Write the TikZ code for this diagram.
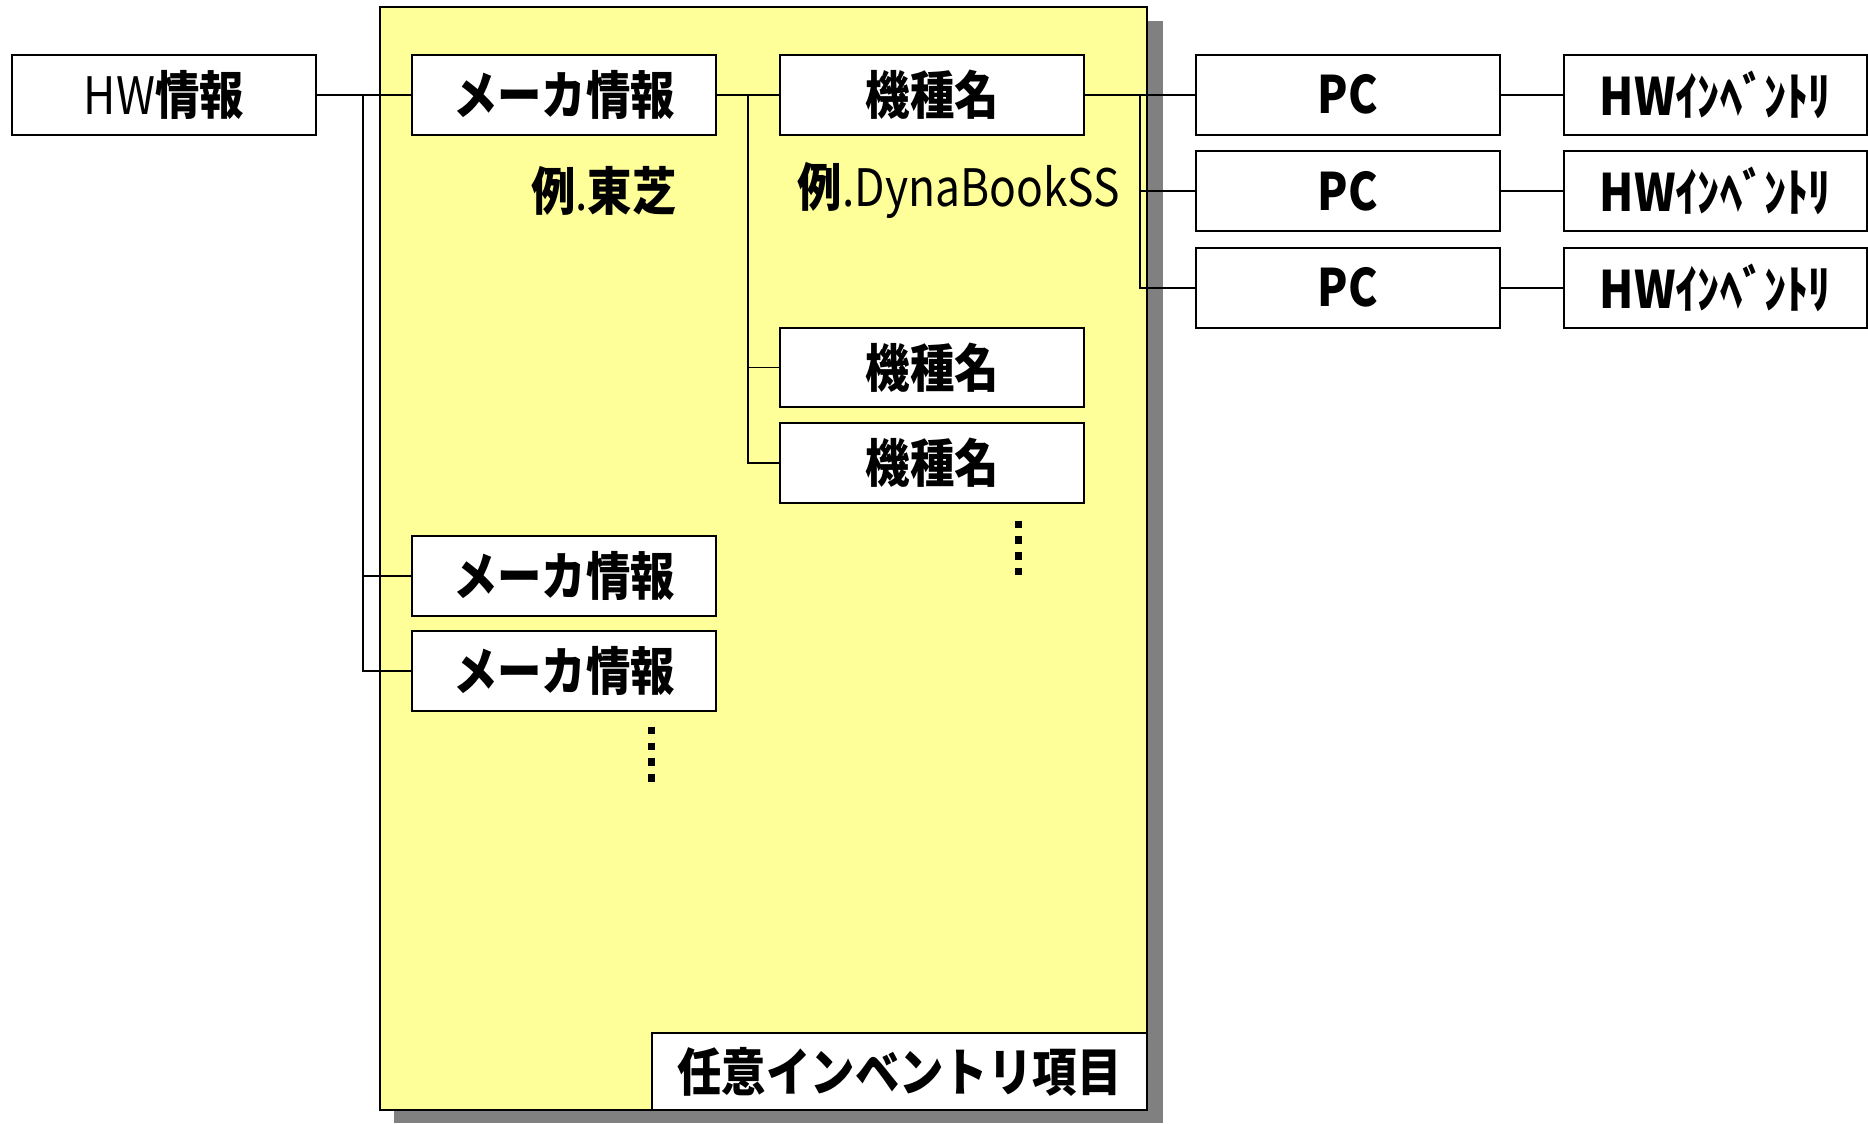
\documentclass[tikz,border=0pt]{standalone}
\usepackage{fontspec}
\setmainfont{Noto Sans CJK JP}[FakeStretch=0.86]
\definecolor{panelyellow}{HTML}{FFFF99}
\definecolor{shadowgray}{HTML}{808080}
\tikzset{
	box/.style={draw, line width=1pt, fill=white, minimum width=153pt, minimum height=40.2pt, inner sep=0pt, font=\fontsize{26}{28}\selectfont\bfseries},
	note/.style={inner sep=0pt, font=\fontsize{26}{28}\selectfont\bfseries},
	link/.style={line width=0.9pt},
	vdots/.style={line width=3.6pt, dash pattern=on 3.6pt off 4.4pt}
}

\begin{document}
\begin{tikzpicture}[x=0.6pt, y=-0.6pt]
			%%%%% START %%%%%
			\useasboundingbox (0, 0) rectangle (1568, 943);
			
			\fill[shadowgray] (331, 18) rectangle (976, 943);
			\draw[line width=1pt, fill=panelyellow] (319, 6) rectangle (963, 932);
			
			\node[box] (hw) at (137.5, 79.5) {{\mdseries HW}情報};
			
			\node[box] (mk1) at (473.5, 79.5) {メーカ情報};
			\node[box] (mk2) at (473.5, 483.5) {メーカ情報};
			\node[box] (mk3) at (473.5, 563.5) {メーカ情報};
			\node[note] (ex1) at (507, 160) {例{\mdseries .}東芝};
			
			\node[box] (kn1) at (782.5, 79.5) {機種名};
			\node[box] (kn2) at (782.5, 308.5) {機種名};
			\node[box] (kn3) at (782.5, 388.5) {機種名};
			\node[note] (ex2) at (805, 160) {例{\mdseries .DynaBookSS}};
			
			\node[box] (pc1) at (1131.5, 79.5) {PC};
			\node[box] (pc2) at (1131.5, 160.5) {PC};
			\node[box] (pc3) at (1131.5, 241.5) {PC};
			
			\node[box] (inv1) at (1440, 79.5) {HWｲﾝﾍﾞﾝﾄﾘ};
			\node[box] (inv2) at (1440, 160.5) {HWｲﾝﾍﾞﾝﾄﾘ};
			\node[box] (inv3) at (1440, 241.5) {HWｲﾝﾍﾞﾝﾄﾘ};
			
			\node[box, minimum width=249.6pt, minimum height=39pt] (item) at (755, 899.5) {任意インベントリ項目\hspace{15pt}};
			
			\coordinate (j1) at (305, 79.5);
			\coordinate (j2) at (628, 79.5);
			\coordinate (j3) at (957, 79.5);
			
			\draw[link] (hw) -- (mk1);
			\draw[link] (j1) |- (mk2.west);
			\draw[link] (j1) |- (mk3.west);
			
			\draw[link] (mk1) -- (kn1);
			\draw[link] (j2) |- (kn2.west);
			\draw[link] (j2) |- (kn3.west);
			
			\draw[link] (kn1) -- (pc1);
			\draw[link] (j3) |- (pc2.west);
			\draw[link] (j3) |- (pc3.west);
			
			\foreach \i in {1,2,3}
				\draw[link] (pc\i) -- (inv\i);
			
			\draw[vdots] (855, 437) -- (855, 484);
			\draw[vdots] (547, 610) -- (547, 657);
			
			%%%%% END %%%%%
		\end{tikzpicture}
\end{document}
